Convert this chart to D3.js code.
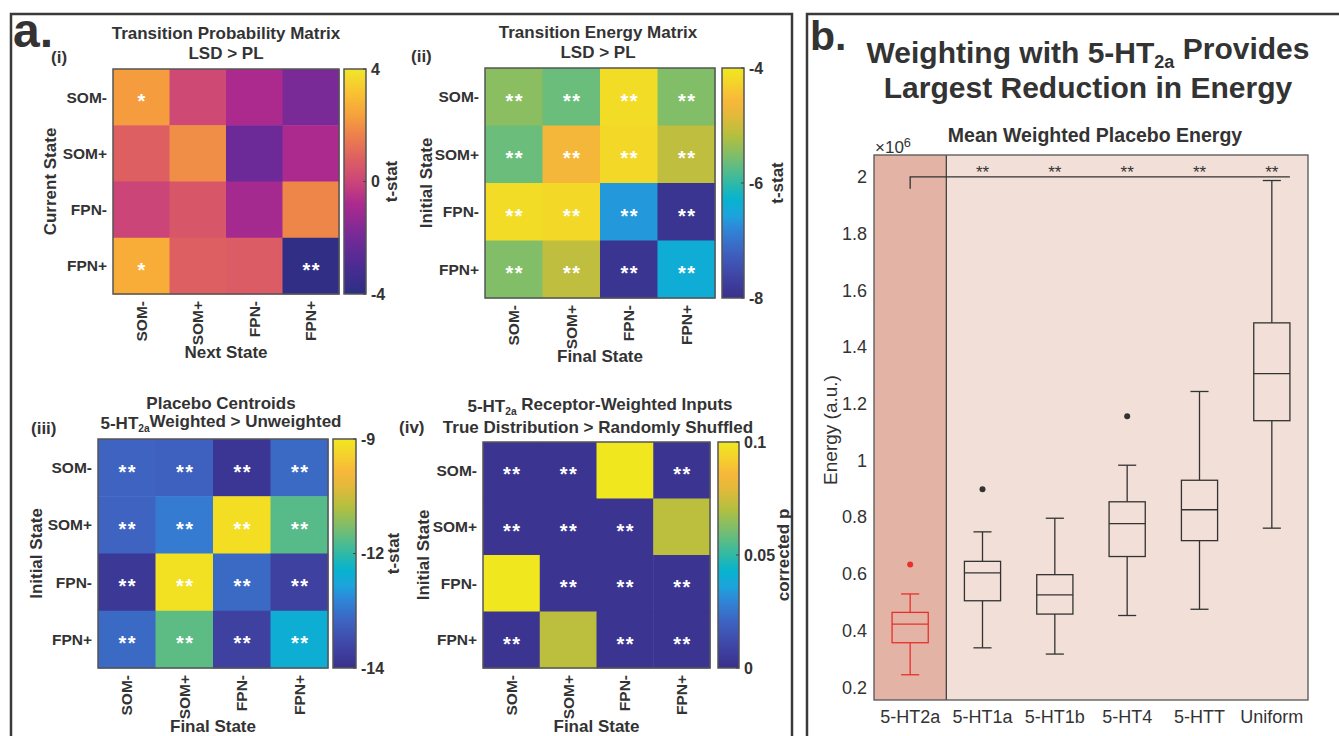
<!DOCTYPE html>
<html>
<head>
<meta charset="utf-8">
<script src="https://cdn.jsdelivr.net/npm/d3@7"></script>
<style>
  body { margin: 0; background: #fff; }
  svg text { font-family: "Liberation Sans", Arial, sans-serif; fill: #333; }
</style>
</head>
<body>
<div id="fig"></div>
<script>
// states used on both axes of every matrix
var states = ["SOM-", "SOM+", "FPN-", "FPN+"]

// (i) transition probability, LSD > PL (t-stat), rows = current state, cols = next state
var probT = [
  [2.25, 0.15, -0.8, -1.85],
  [0.8, 1.9, -2.2, -0.8],
  [0.0, 0.55, -0.95, 1.75],
  [2.65, 0.8, 0.7, -3.85]
]
var probStars = [
  ["*", "", "", ""],
  ["", "", "", ""],
  ["", "", "", ""],
  ["*", "", "", "**"]
]
var probTicks = [4, 0, -4]

// (ii) transition energy, LSD > PL (t-stat), rows = initial, cols = final
var energyT = [
  [-5.45, -5.65, -4.15, -5.5],
  [-5.65, -4.6, -4.2, -5.1],
  [-4.15, -4.2, -6.65, -7.9],
  [-5.5, -5.1, -7.9, -6.4]
]
var energyStars = [
  ["**", "**", "**", "**"],
  ["**", "**", "**", "**"],
  ["**", "**", "**", "**"],
  ["**", "**", "**", "**"]
]
var energyTicks = [-4, -6, -8]

// (iii) placebo centroids, 5-HT2a weighted > unweighted (t-stat)
var centroidT = [
  [-13.15, -13.2, -14.05, -13.05],
  [-13.15, -12.8, -9.15, -11.3],
  [-14.0, -9.1, -13.05, -13.8],
  [-13.05, -11.25, -13.8, -12.1]
]
var centroidStars = energyStars
var centroidTicks = [-9.0, -11.6, -14.2]

// (iv) receptor-weighted inputs, true > shuffled (corrected p)
var shuffleP = [
  [0.002, 0.002, 0.1, 0.002],
  [0.002, 0.002, 0.002, 0.072],
  [0.1, 0.002, 0.002, 0.002],
  [0.002, 0.072, 0.002, 0.002]
]
var shuffleStars = [
  ["**", "**", "", "**"],
  ["**", "**", "**", ""],
  ["", "**", "**", "**"],
  ["**", "", "**", "**"]
]
var shuffleTicks = [0.1, 0.05, 0]

// (b) mean weighted placebo energy (x10^6)
var boxCats = ["5-HT2a", "5-HT1a", "5-HT1b", "5-HT4", "5-HTT", "Uniform"]
var boxLow = [0.244, 0.339, 0.317, 0.453, 0.475, 0.761]
var boxQ1 = [0.357, 0.505, 0.458, 0.661, 0.717, 1.140]
var boxMed = [0.4225, 0.603, 0.526, 0.777, 0.826, 1.306]
var boxQ3 = [0.464, 0.644, 0.597, 0.854, 0.930, 1.485]
var boxHigh = [0.529, 0.748, 0.796, 0.983, 1.243, 1.987]
var boxOutliers = [[0.633], [0.898], [], [1.156], [], []]
var sigStars = ["", "**", "**", "**", "**", "**"]
var energyYTicks = [0.2, 0.4, 0.6, 0.8, 1, 1.2, 1.4, 1.6, 1.8, 2]

var font = '"Liberation Sans", Arial, sans-serif'
var svg = d3.select("#fig").append("svg")
  .attr("width", 1339)
  .attr("height", 736)

// colormaps sampled to look like the printed figure
function stopMap(pos, cols) {
  var s = d3.scaleLinear().domain(pos).range(cols).interpolate(d3.interpolateRgb)
  return function(t) { return s(Math.max(0, Math.min(1, t))) }
}
var parula = stopMap(
  [0, 0.1, 0.2, 0.3, 0.36, 0.43, 0.5, 0.6, 0.7, 0.8, 0.86, 0.93, 1],
  ["#3a2f8c", "#3f46a6", "#3e62c0", "#2f86d8", "#1ca4dc", "#06b3cf", "#30b9a6",
   "#72bd74", "#b2bf3f", "#e6b93a", "#f8b73a", "#f5d22c", "#f1e71f"])
var plasma = stopMap(
  [0, 0.12, 0.25, 0.4, 0.5, 0.6, 0.7, 0.8, 0.9, 1],
  ["#2c2f82", "#4a2c93", "#732a98", "#ac2a8e", "#cb4578", "#dd5f62", "#ec7f4d",
   "#f6a33b", "#f8c431", "#f0e72b"])

// panel frames
svg.append("rect").attr("x", 11).attr("y", 14).attr("width", 781).attr("height", 740)
  .attr("fill", "none").attr("stroke", "#3a3a3a").attr("stroke-width", 2.5)
svg.append("rect").attr("x", 807).attr("y", 14).attr("width", 560).attr("height", 740)
  .attr("fill", "none").attr("stroke", "#3a3a3a").attr("stroke-width", 2.5)

svg.append("text").attr("x", 13).attr("y", 47).style("font-size", "48px")
  .style("font-weight", "bold").text("a.")
svg.append("text").attr("x", 810).attr("y", 50).style("font-size", "41px")
  .style("font-weight", "bold").text("b.")

// helper: text with a "2a" subscript after a prefix
function subText(sel, before, sub, after) {
  sel.append("tspan").text(before)
  sel.append("tspan").attr("dy", "0.3em").style("font-size", "0.6em").text(sub)
  sel.append("tspan").attr("dy", "-0.3em").text(after)
}

function heatmap(cfg) {
  var g = svg.append("g")
  var x = d3.scaleBand().domain(states).range([cfg.x, cfg.x + cfg.w])
  var y = d3.scaleBand().domain(states).range([cfg.y, cfg.y + cfg.h])
  var color = d3.scaleSequential(cfg.cmap).domain(cfg.domain)

  var cells = []
  cfg.values.forEach(function(row, r) {
    row.forEach(function(v, c) {
      cells.push({ r: states[r], c: states[c], v: v, s: cfg.stars[r][c] })
    })
  })

  g.selectAll("rect.cell").data(cells).enter().append("rect")
    .attr("x", function(d) { return x(d.c) })
    .attr("y", function(d) { return y(d.r) })
    .attr("width", x.bandwidth() + 0.5)
    .attr("height", y.bandwidth() + 0.5)
    .attr("fill", function(d) { return color(d.v) })

  g.selectAll("text.star").data(cells).enter().append("text")
    .attr("x", function(d) { return x(d.c) + x.bandwidth() / 2 + 1 })
    .attr("y", function(d) { return y(d.r) + y.bandwidth() / 2 + 11 })
    .attr("text-anchor", "middle")
    .style("fill", "#fff").style("font-size", "20px").style("font-weight", "bold")
    .style("letter-spacing", "1.5px")
    .text(function(d) { return d.s })

  g.append("rect").attr("x", cfg.x).attr("y", cfg.y).attr("width", cfg.w).attr("height", cfg.h)
    .attr("fill", "none").attr("stroke", "#555").attr("stroke-width", 1.5)

  // row labels
  g.selectAll("text.ylab").data(states).enter().append("text")
    .attr("x", cfg.x - 6)
    .attr("y", function(d) { return y(d) + y.bandwidth() / 2 })
    .attr("text-anchor", "end").attr("dominant-baseline", "central")
    .style("font-size", "15.5px").style("font-weight", "bold")
    .text(function(d) { return d })

  // column labels, rotated
  g.selectAll("text.xlab").data(states).enter().append("text")
    .attr("transform", function(d) {
      return "translate(" + (x(d) + x.bandwidth() / 2) + "," + (cfg.y + cfg.h + 7) + ") rotate(-90)"
    })
    .attr("text-anchor", "end").attr("dominant-baseline", "central")
    .style("font-size", "15.5px").style("font-weight", "bold")
    .text(function(d) { return d })

  g.append("text")
    .attr("x", cfg.x + cfg.w / 2).attr("y", cfg.y + cfg.h + 64)
    .attr("text-anchor", "middle").style("font-size", "17px").style("font-weight", "bold")
    .text(cfg.xTitle)

  g.append("text")
    .attr("transform", "translate(" + cfg.yTitleX + "," + (cfg.y + cfg.h / 2) + ") rotate(-90)")
    .attr("text-anchor", "middle").attr("dominant-baseline", "central")
    .style("font-size", "17px").style("font-weight", "bold")
    .text(cfg.yTitle)

  // colorbar
  var gradId = "grad" + cfg.id
  var grad = svg.append("defs").append("linearGradient").attr("id", gradId)
    .attr("x1", 0).attr("y1", 1).attr("x2", 0).attr("y2", 0)
  d3.range(0, 1.0001, 0.02).forEach(function(t) {
    grad.append("stop").attr("offset", t)
      .attr("stop-color", color(cfg.domain[0] + t * (cfg.domain[1] - cfg.domain[0])))
  })
  var cb = d3.scaleLinear().domain(cfg.domain).range([cfg.y + cfg.h, cfg.y])
  g.append("rect").attr("x", cfg.cbx).attr("y", cfg.y).attr("width", cfg.cbw).attr("height", cfg.h)
    .attr("fill", "url(#" + gradId + ")").attr("stroke", "#555").attr("stroke-width", 1.5)
  g.selectAll("line.cbt").data(cfg.ticks).enter().append("line")
    .attr("x1", cfg.cbx + cfg.cbw - 3).attr("x2", cfg.cbx + cfg.cbw)
    .attr("y1", function(d) { return cb(d) }).attr("y2", function(d) { return cb(d) })
    .attr("stroke", "#444").attr("stroke-width", 1)
  g.selectAll("text.cbt").data(cfg.ticks).enter().append("text")
    .attr("x", cfg.cbx + cfg.cbw + 5)
    .attr("y", function(d) { return cb(d) })
    .attr("dominant-baseline", "central")
    .style("font-size", "16px").style("font-weight", "bold")
    .text(cfg.tickFormat)

  g.append("text")
    .attr("transform", "translate(" + cfg.cbTitleX + "," + (cfg.y + cfg.h / 2) + ") rotate(-90)")
    .attr("text-anchor", "middle").attr("dominant-baseline", "central")
    .style("font-size", "17px").style("font-weight", "bold")
    .text(cfg.cbTitle)

  return g
}

var roundFmt = function(d) { return Math.round(d) }
function title(x, y, txt) {
  return svg.append("text").attr("x", x).attr("y", y).attr("text-anchor", "middle")
    .style("font-size", "17px").style("font-weight", "bold").text(txt)
}

// (i)
heatmap({ id: 1, x: 113, y: 69, w: 226, h: 225, cbx: 344, cbw: 22,
  values: probT, stars: probStars, cmap: plasma, domain: [-4, 4],
  ticks: probTicks, tickFormat: roundFmt, cbTitle: "t-stat", cbTitleX: 391,
  xTitle: "Next State", yTitle: "Current State", yTitleX: 50 })
title(226, 39, "Transition Probability Matrix")
title(226, 59, "LSD > PL")
svg.append("text").attr("x", 51).attr("y", 63)
  .style("font-size", "17px").style("font-weight", "bold").text("(i)")

// (ii)
heatmap({ id: 2, x: 485, y: 68, w: 230, h: 230, cbx: 722, cbw: 22,
  values: energyT, stars: energyStars, cmap: parula, domain: [-8, -4],
  ticks: energyTicks, tickFormat: roundFmt, cbTitle: "t-stat", cbTitleX: 777,
  xTitle: "Final State", yTitle: "Initial State", yTitleX: 426 })
title(598, 38, "Transition Energy Matrix")
title(598, 58, "LSD > PL")
svg.append("text").attr("x", 411).attr("y", 62)
  .style("font-size", "17px").style("font-weight", "bold").text("(ii)")

// (iii)
heatmap({ id: 3, x: 98, y: 439, w: 230, h: 229, cbx: 333, cbw: 23,
  values: centroidT, stars: centroidStars, cmap: parula, domain: [-14.2, -9.0],
  ticks: centroidTicks, tickFormat: roundFmt, cbTitle: "t-stat", cbTitleX: 393,
  xTitle: "Final State", yTitle: "Initial State", yTitleX: 36 })
title(221, 409, "Placebo Centroids")
subText(title(221, 429, null), "5-HT", "2a", "Weighted > Unweighted")
svg.append("text").attr("x", 31).attr("y", 434)
  .style("font-size", "17px").style("font-weight", "bold").text("(iii)")

// (iv)
heatmap({ id: 4, x: 483, y: 442, w: 227, h: 226, cbx: 718, cbw: 21,
  values: shuffleP, stars: shuffleStars, cmap: parula, domain: [0, 0.1],
  ticks: shuffleTicks, tickFormat: function(d) { return d }, cbTitle: "corrected p", cbTitleX: 783,
  xTitle: "Final State", yTitle: "Initial State", yTitleX: 423 })
subText(title(600, 412, null), "5-HT", "2a", " Receptor-Weighted Inputs")
title(598, 433, "True Distribution > Randomly Shuffled")
svg.append("text").attr("x", 399).attr("y", 433)
  .style("font-size", "17px").style("font-weight", "bold").text("(iv)")

// (b) box plot
var bx = d3.scaleBand().domain(boxCats).range([874, 1308])
var by = d3.scaleLinear().domain([0.155, 2.077]).range([700, 155])
var bw = bx.bandwidth()

svg.append("rect").attr("x", 874).attr("y", 155).attr("width", 434).attr("height", 545)
  .attr("fill", "#f2dfd8")
svg.append("rect").attr("x", bx(boxCats[0])).attr("y", 155).attr("width", bw).attr("height", 545)
  .attr("fill", "#e3b3a6")
svg.append("line").attr("x1", bx(boxCats[1])).attr("x2", bx(boxCats[1]))
  .attr("y1", 155).attr("y2", 700).attr("stroke", "#444").attr("stroke-width", 1.3)

var t1 = svg.append("text").attr("x", 1088).attr("y", 63).attr("text-anchor", "middle")
  .style("font-size", "30px").style("font-weight", "bold")
subText(t1, "Weighting with 5-HT", "2a", " Provides")
svg.append("text").attr("x", 1088).attr("y", 98).attr("text-anchor", "middle")
  .style("font-size", "30px").style("font-weight", "bold").text("Largest Reduction in Energy")
svg.append("text").attr("x", 1095).attr("y", 142).attr("text-anchor", "middle")
  .style("font-size", "19.5px").style("font-weight", "bold").text("Mean Weighted Placebo Energy")
var exp = svg.append("text").attr("x", 875).attr("y", 153).style("font-size", "17px")
exp.append("tspan").text("\u00d710")
exp.append("tspan").attr("dy", "-0.45em").style("font-size", "0.75em").text("6")

var boxes = boxCats.map(function(c, i) {
  return { c: c, low: boxLow[i], q1: boxQ1[i], med: boxMed[i], q3: boxQ3[i],
           high: boxHigh[i], out: boxOutliers[i], col: i === 0 ? "#e8302a" : "#333" }
})
var bg = svg.selectAll("g.box").data(boxes).enter().append("g")
  .attr("transform", function(d) { return "translate(" + (bx(d.c) + bw / 2) + ",0)" })
bg.append("line").attr("x1", 0).attr("x2", 0)
  .attr("y1", function(d) { return by(d.high) }).attr("y2", function(d) { return by(d.q3) })
  .attr("stroke", function(d) { return d.col }).attr("stroke-width", 1.3)
bg.append("line").attr("x1", 0).attr("x2", 0)
  .attr("y1", function(d) { return by(d.q1) }).attr("y2", function(d) { return by(d.low) })
  .attr("stroke", function(d) { return d.col }).attr("stroke-width", 1.3)
bg.append("line").attr("x1", -bw / 8).attr("x2", bw / 8)
  .attr("y1", function(d) { return by(d.high) }).attr("y2", function(d) { return by(d.high) })
  .attr("stroke", function(d) { return d.col }).attr("stroke-width", 1.3)
bg.append("line").attr("x1", -bw / 8).attr("x2", bw / 8)
  .attr("y1", function(d) { return by(d.low) }).attr("y2", function(d) { return by(d.low) })
  .attr("stroke", function(d) { return d.col }).attr("stroke-width", 1.3)
bg.append("rect").attr("x", -bw / 4).attr("width", bw / 2)
  .attr("y", function(d) { return by(d.q3) })
  .attr("height", function(d) { return by(d.q1) - by(d.q3) })
  .attr("fill", "none").attr("stroke", function(d) { return d.col }).attr("stroke-width", 1.3)
bg.append("line").attr("x1", -bw / 4).attr("x2", bw / 4)
  .attr("y1", function(d) { return by(d.med) }).attr("y2", function(d) { return by(d.med) })
  .attr("stroke", function(d) { return d.col }).attr("stroke-width", 1.3)
bg.selectAll("circle").data(function(d) { return d.out.map(function(v) { return { v: v, col: d.col } }) })
  .enter().append("circle").attr("cx", 0).attr("cy", function(d) { return by(d.v) }).attr("r", 3)
  .attr("fill", function(d) { return d.col })

// significance bracket
var sigY = by(2.0)
svg.append("path")
  .attr("d", "M" + (bx(boxCats[0]) + bw / 2) + "," + by(1.958) + "V" + sigY +
             "H" + (bx(boxCats[5]) + bw * 0.75))
  .attr("fill", "none").attr("stroke", "#333").attr("stroke-width", 1.3)
svg.selectAll("text.sig").data(boxCats).enter().append("text")
  .attr("x", function(d) { return bx(d) + bw / 2 })
  .attr("y", sigY + 1)
  .attr("text-anchor", "middle").style("font-size", "17px")
  .text(function(d, i) { return sigStars[i] })

// axes
var yAxis = svg.append("g").attr("transform", "translate(874,0)")
  .call(d3.axisLeft(by).tickValues(energyYTicks).tickSize(0).tickPadding(7).tickFormat(d3.format("")))
var xAxis = svg.append("g").attr("transform", "translate(0,700)")
  .call(d3.axisBottom(bx).tickSize(0).tickPadding(10))
yAxis.select(".domain").remove()
xAxis.select(".domain").remove()
svg.selectAll(".tick text").style("font-family", font).style("font-size", "18px").style("fill", "#333")
svg.append("rect").attr("x", 874).attr("y", 155).attr("width", 434).attr("height", 545)
  .attr("fill", "none").attr("stroke", "#555").attr("stroke-width", 1.3)
svg.append("text").attr("transform", "translate(830,430) rotate(-90)")
  .attr("text-anchor", "middle").attr("dominant-baseline", "central")
  .style("font-size", "19px").text("Energy (a.u.)")
</script>
</body>
</html>
